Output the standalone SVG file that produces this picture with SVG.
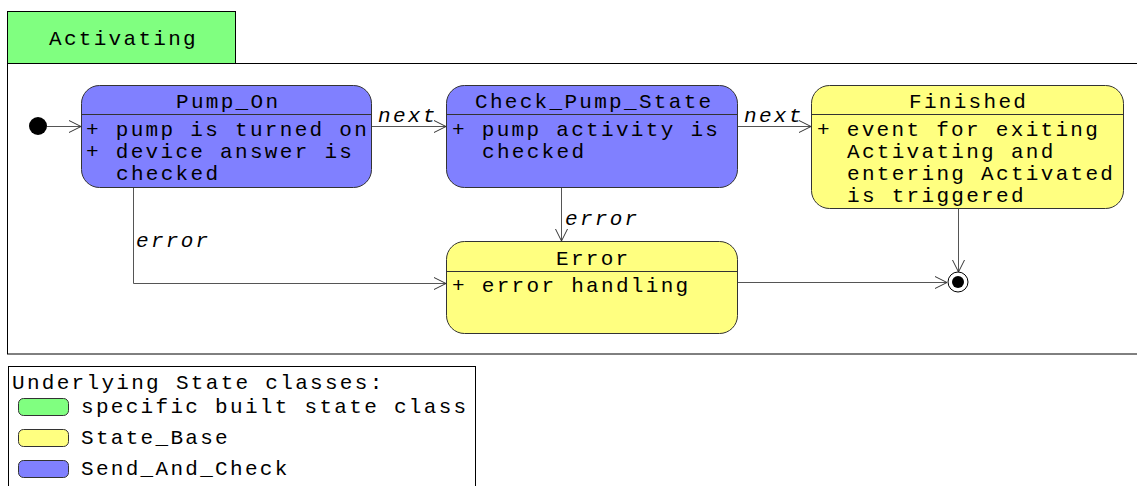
<svg xmlns="http://www.w3.org/2000/svg" width="1137" height="486" viewBox="0 0 1137 486">
  <style>
    text { font-family: "Liberation Mono", "DejaVu Sans Mono", monospace; font-size: 21px; letter-spacing: 2.3px; fill: #000; }
    .lbl { font-style: italic; }
    .frame { fill: #fff; stroke: #000; stroke-width: 1; }
    .state { stroke: #333; stroke-width: 1; }
    .send { fill: #8080ff; }
    .base { fill: #ffff80; }
    .built { fill: #80ff80; }
    .div { stroke: #333; stroke-width: 1; }
    .edge { fill: none; stroke: #555; stroke-width: 1; }
  </style>
  <defs>
    <marker id="open" viewBox="0 0 14 14" refX="13" refY="7" markerWidth="14" markerHeight="14" markerUnits="userSpaceOnUse" orient="auto">
      <path d="M1,1 L13,7 L1,13" fill="none" stroke="#333" stroke-width="1"/>
    </marker>
  </defs>

  <rect width="1137" height="486" fill="#fff"/>

  <!-- composite state frame -->
  <g id="frame">
    <rect class="frame" x="7.5" y="63.5" width="1140" height="290.5"/>
    <rect class="frame built" x="7.5" y="11.5" width="228" height="52"/>
    <text x="49" y="45">Activating</text>
  </g>

  <!-- transitions -->
  <g id="connectors">
    <line class="edge" x1="47" y1="126.5" x2="81" y2="126.5" marker-end="url(#open)"/>
    <line class="edge" x1="371" y1="126.5" x2="446" y2="126.5" marker-end="url(#open)"/>
    <text class="lbl" x="378" y="122">next</text>
    <line class="edge" x1="737" y1="126.5" x2="811" y2="126.5" marker-end="url(#open)"/>
    <text class="lbl" x="744" y="122">next</text>
    <polyline class="edge" points="133.5,187 133.5,283.5 446,283.5" marker-end="url(#open)"/>
    <text class="lbl" x="136" y="247">error</text>
    <line class="edge" x1="561.5" y1="187" x2="561.5" y2="241" marker-end="url(#open)"/>
    <text class="lbl" x="565" y="225">error</text>
    <line class="edge" x1="737" y1="282.5" x2="947" y2="282.5" marker-end="url(#open)"/>
    <line class="edge" x1="958.5" y1="208" x2="958.5" y2="272" marker-end="url(#open)"/>
  </g>

  <g id="initial">
    <circle cx="38" cy="126" r="9" fill="#000"/>
  </g>

  <g id="final">
    <circle cx="958" cy="282" r="10" fill="#fff" stroke="#000" stroke-width="1"/>
    <circle cx="958" cy="282" r="6" fill="#000"/>
  </g>

  <g id="Pump_On">
    <rect class="state send" x="81.5" y="85.5" width="290" height="102" rx="18"/>
    <line class="div" x1="81.5" y1="114.5" x2="371.5" y2="114.5"/>
    <text x="176" y="108">Pump_On</text>
    <text x="86" y="136">+ pump is turned on</text>
    <text x="86" y="158">+ device answer is</text>
    <text x="116" y="180">checked</text>
  </g>

  <g id="Check_Pump_State">
    <rect class="state send" x="446.5" y="85.5" width="291" height="102" rx="18"/>
    <line class="div" x1="446.5" y1="114.5" x2="737.5" y2="114.5"/>
    <text x="475" y="108">Check_Pump_State</text>
    <text x="452" y="136">+ pump activity is</text>
    <text x="482" y="158">checked</text>
  </g>

  <g id="Finished">
    <rect class="state base" x="811.5" y="85.5" width="312" height="123" rx="18"/>
    <line class="div" x1="811.5" y1="114.5" x2="1123.5" y2="114.5"/>
    <text x="909" y="108">Finished</text>
    <text x="817" y="136">+ event for exiting</text>
    <text x="847" y="158">Activating and</text>
    <text x="847" y="180">entering Activated</text>
    <text x="847" y="202">is triggered</text>
  </g>

  <g id="Error">
    <rect class="state base" x="446.5" y="241.5" width="291" height="92" rx="18"/>
    <line class="div" x1="446.5" y1="271.5" x2="737.5" y2="271.5"/>
    <text x="556" y="265">Error</text>
    <text x="452" y="292">+ error handling</text>
  </g>

  <!-- colour key -->
  <g id="legend">
    <rect class="frame" x="8.5" y="366.5" width="467" height="130"/>
    <text x="12" y="389">Underlying State classes:</text>
    <rect class="state built" x="18.5" y="398.5" width="50" height="17" rx="5"/>
    <text x="81" y="413">specific built state class</text>
    <rect class="state base" x="18.5" y="429.5" width="50" height="17" rx="5"/>
    <text x="81" y="444">State_Base</text>
    <rect class="state send" x="18.5" y="460.5" width="50" height="17" rx="5"/>
    <text x="81" y="475">Send_And_Check</text>
  </g>
</svg>
